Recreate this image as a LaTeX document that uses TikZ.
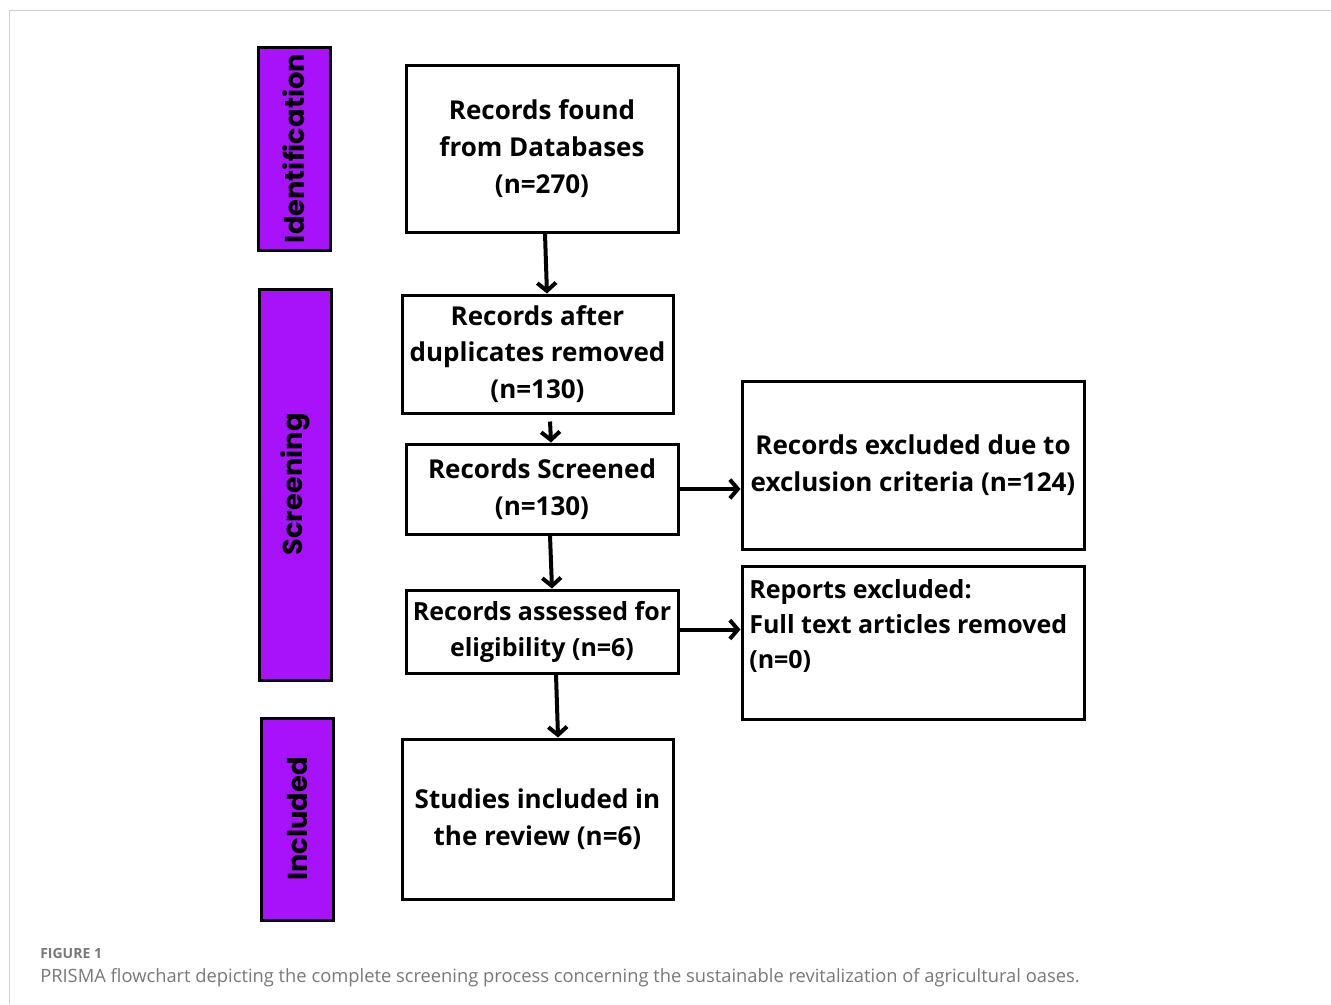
\documentclass[tikz,border=0pt]{standalone}
\usepackage{fontspec}
\setmainfont{Open Sans}
\newfontfamily\popfont{Poppins}
\usetikzlibrary{arrows.meta}
\definecolor{phase}{RGB}{168,18,250}
\definecolor{framegray}{RGB}{210,210,210}
\definecolor{capgray}{RGB}{120,120,120}
\tikzset{
  flowbox/.style={draw=black, line width=2.25pt, fill=white, align=center,
    font=\fontsize{19.5}{27.5}\selectfont\bfseries, inner sep=0pt},
  phasebox/.style={draw=black, line width=2.25pt, fill=phase, inner sep=0pt,
    minimum width=54pt},
  phaselabel/.style={rotate=90, font=\popfont\fontsize{20.5}{24}\selectfont\bfseries},
  flowarrow/.style={line width=3pt, -{Straight Barb[length=6pt,width=14pt]}}
}
\begin{document}
\begin{tikzpicture}[x=0.75pt,y=-0.75pt]
\useasboundingbox (0,0) rectangle (1331,1004);
% frame
\draw[framegray, line width=1.2pt] (9.5,1004) -- (9.5,10.5) -- (1331,10.5);

% phase boxes
\node[phasebox, minimum height=152.25pt] (ph1) at (294,148.5) {};
\node[phaselabel] (ph1t) at (ph1.center) {Identification};
\node[phasebox, minimum height=293.25pt] (ph2) at (295.5,484.5) {};
\node[phaselabel] (ph2t) at (ph2.center) {Screening};
\node[phasebox, minimum height=151.5pt] (ph3) at (297,819) {};
\node[phaselabel] (ph3t) at (ph3.center) {Included};

% flow boxes
\node[flowbox, minimum width=204pt, minimum height=125.25pt] (b1) at (542,148.5)
  {Records found\\from Databases\\(n=270)};
\node[flowbox, minimum width=203.25pt, minimum height=88.5pt] (b2) at (537.5,354)
  {Records after\\duplicates removed\\(n=130)};
\node[flowbox, minimum width=204pt, minimum height=67.5pt] (b3) at (542,489)
  {Records Screened\\(n=130)};
\node[flowbox, minimum width=204pt, minimum height=62.25pt,
  font=\fontsize{18.75}{27}\selectfont\bfseries] (b4) at (542,631.5)
  {Records assessed for\\eligibility (n=6)};
\node[flowbox, minimum width=203.25pt, minimum height=120pt] (b5) at (537.5,819)
  {Studies included in\\the review (n=6)};
\node[flowbox, minimum width=256.5pt, minimum height=126pt] (b6) at (913,465)
  {Records excluded due to\\exclusion criteria (n=124)};
\node[flowbox, minimum width=256.5pt, minimum height=114.75pt] (b7) at (913,642.5) {};
\node[anchor=north west, align=left, inner sep=0pt,
  font=\fontsize{18.75}{26.25}\selectfont\bfseries] (b7t) at (749,579)
  {Reports excluded:\\Full text articles removed\\(n=0)};

% arrows
\draw[flowarrow] ([xshift=2.25pt]b1.south) -- ([xshift=7.1pt]b2.north);
\draw[flowarrow] ([xshift=9.4pt,yshift=-5.25pt]b2.south) -- ([xshift=6.75pt]b3.north);
\draw[flowarrow] ([xshift=6pt]b3.south) -- ([xshift=7.5pt]b4.north);
\draw[flowarrow] ([xshift=10.5pt]b4.south) -- ([xshift=15.4pt]b5.north);
\draw[flowarrow] (b3.east) -- (b3.east -| b6.west);
\draw[flowarrow] ([yshift=1.5pt]b4.east) -- ([yshift=1.5pt]b4.east -| b7.west);

% caption
\node[anchor=base west, inner sep=0pt, text=capgray,
  font=\fontsize{10.5}{12}\selectfont\bfseries] (figlab) at (40,958) {FIGURE 1};
\node[anchor=base west, inner sep=0pt, text=capgray,
  font=\fontsize{13.75}{15}\selectfont] (cap) at (40,982)
  {PRISMA flowchart depicting the complete screening process concerning the sustainable revitalization of agricultural oases.};
\end{tikzpicture}
\end{document}
